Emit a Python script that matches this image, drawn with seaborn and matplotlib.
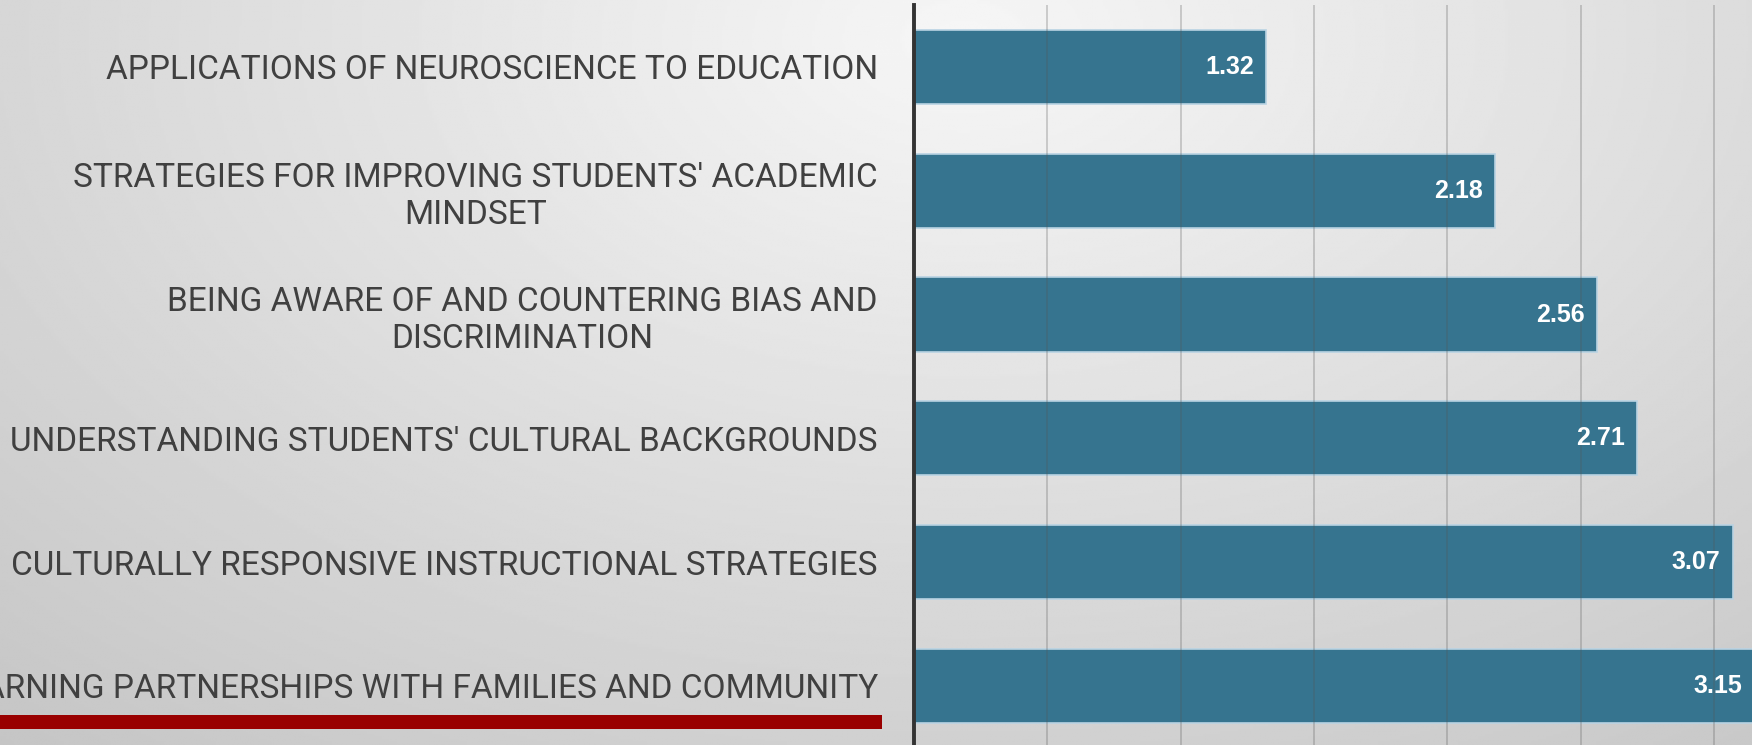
import numpy as np
import pandas as pd
import matplotlib.pyplot as plt
import matplotlib.patches as mpatches
import seaborn as sns

# chart data
topics = [
    "APPLICATIONS OF NEUROSCIENCE TO EDUCATION",
    "STRATEGIES FOR IMPROVING STUDENTS' ACADEMIC\nMINDSET",
    "BEING AWARE OF AND COUNTERING BIAS AND\nDISCRIMINATION",
    "UNDERSTANDING STUDENTS' CULTURAL BACKGROUNDS",
    "CULTURALLY RESPONSIVE INSTRUCTIONAL STRATEGIES",
    "LEARNING PARTNERSHIPS WITH FAMILIES AND COMMUNITY",
]
scores = [1.32, 2.18, 2.56, 2.71, 3.07, 3.15]

df = pd.DataFrame({'Topic': topics, 'Score': scores})

sns.set_theme(style='white')
label_font = ['Roboto', 'DejaVu Sans']

fig = plt.figure(figsize=(17.52, 7.45), dpi=100)

# soft grey radial background
bg = fig.add_axes([0, 0, 1, 1], zorder=0)
yy, xx = np.mgrid[0:1:300j, 0:1:700j]
r = np.sqrt(((xx - 0.55) / 0.75) ** 2 + ((yy - 0.05) / 1.1) ** 2)
shade = 0.965 - 0.17 * np.clip(r, 0, 1.2)
bg.imshow(shade, cmap='gray', vmin=0, vmax=1, extent=[0, 1, 0, 1],
          origin='upper', aspect='auto')
bg.axis('off')

ax = fig.add_axes([914 / 1752, 0, 1 - 914 / 1752, 1 - 5 / 745], zorder=1)
ax.set_facecolor('none')

sns.barplot(data=df, x='Score', y='Topic', orient='h', color='#36748F',
            saturation=1, width=0.6, edgecolor='#b9d3e3', linewidth=1.2, ax=ax)

ax.set_xlim(0, 3.143)
ax.set_ylim(5.477, -0.5)
ax.set_xticks(np.arange(0.5, 3.01, 0.5))
ax.set_axisbelow(False)
ax.grid(axis='x', color='#555555', alpha=0.3, linewidth=1.2)
ax.grid(axis='y', visible=False)
ax.tick_params(axis='x', length=0, labelbottom=False)
ax.tick_params(axis='y', length=0, pad=26)
ax.set_xlabel('')
ax.set_ylabel('')

for s in ['top', 'right', 'bottom']:
    ax.spines[s].set_visible(False)
ax.spines['left'].set_color('#333333')
ax.spines['left'].set_linewidth(2.8)

for lbl in ax.get_yticklabels():
    lbl.set_fontfamily(label_font)
    lbl.set_fontsize(24)
    lbl.set_color('#404040')
    lbl.set_multialignment('center')

# value labels inside the bar ends
for i, v in enumerate(scores):
    ax.text(v - 0.045, i, f'{v:.2f}', ha='right', va='center', color='white',
            fontsize=18, fontweight='bold', family='Liberation Sans',
            clip_on=True)

# red underline under the labels
fig.add_artist(mpatches.Rectangle((0, 16 / 745), 882 / 1752, 14 / 745,
                                  transform=fig.transFigure,
                                  facecolor='#990000', edgecolor='none',
                                  zorder=2))

plt.savefig('out.png', dpi=100)
